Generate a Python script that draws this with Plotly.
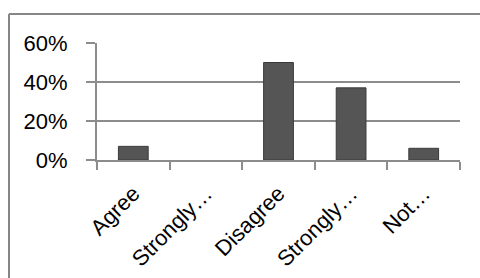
import plotly.graph_objects as go

categories = ["Agree", "Strongly…", "Disagree", "Strongly…", "Not…"]
cat_ids = ["Agree", "Strongly agree", "Disagree", "Strongly disagree", "Not sure"]
values = [0.07, 0.0, 0.50, 0.37, 0.06]
y_ticks = [0, 0.2, 0.4, 0.6]
y_labels = ["0%", "20%", "40%", "60%"]

W, H = 480, 278
L, R, T, B = 97, 20, 43, 118
pw, ph = W - L - R, H - T - B

fig = go.Figure(go.Bar(
    x=cat_ids, y=values, width=0.41,
    marker=dict(color="#555555", line=dict(color="#3a3a3a", width=[1, 0, 1, 1, 1])),
))

grid = "#8c8c8c"
border = dict(color="#868686", width=2)
bx0, bx1 = (9 - L) / pw, (W - L) / pw
by_top, by_bot = (H - B - 14) / ph, (H - B - H) / ph

fig.update_layout(
    width=W, height=H,
    margin=dict(l=L, r=R, t=T, b=B, pad=0),
    paper_bgcolor="white", plot_bgcolor="white",
    showlegend=False,
    font=dict(family="Liberation Sans, Arial, sans-serif", size=22, color="black"),
    xaxis=dict(
        tickmode="array", tickvals=cat_ids, ticktext=categories,
        tickangle=-45, tickson="boundaries", ticks="outside", ticklen=8,
        tickcolor=grid, tickwidth=2, showline=True, linecolor=grid, linewidth=2,
        showgrid=False, tickfont=dict(size=22), automargin=False,
        ticklabelstandoff=10,
    ),
    yaxis=dict(
        range=[0, 0.6], tickvals=y_ticks, ticktext=y_labels,
        ticks="outside", ticklen=9, tickcolor=grid, tickwidth=2,
        showline=True, linecolor=grid, linewidth=2,
        showgrid=True, gridcolor=grid, gridwidth=2, zeroline=False,
        tickfont=dict(size=22), automargin=False, ticklabelstandoff=14,
    ),
    shapes=[
        dict(type="line", xref="paper", yref="paper",
             x0=bx0, x1=bx1, y0=by_top, y1=by_top, line=border, layer="below"),
        dict(type="line", xref="paper", yref="paper",
             x0=bx0, x1=bx0, y0=by_top, y1=by_bot, line=border, layer="below"),
    ],
)

fig.write_html(
    "out.html",
    config={"displayModeBar": False},
    post_script="document.body.style.margin='0';document.body.style.overflow='hidden';",
)
